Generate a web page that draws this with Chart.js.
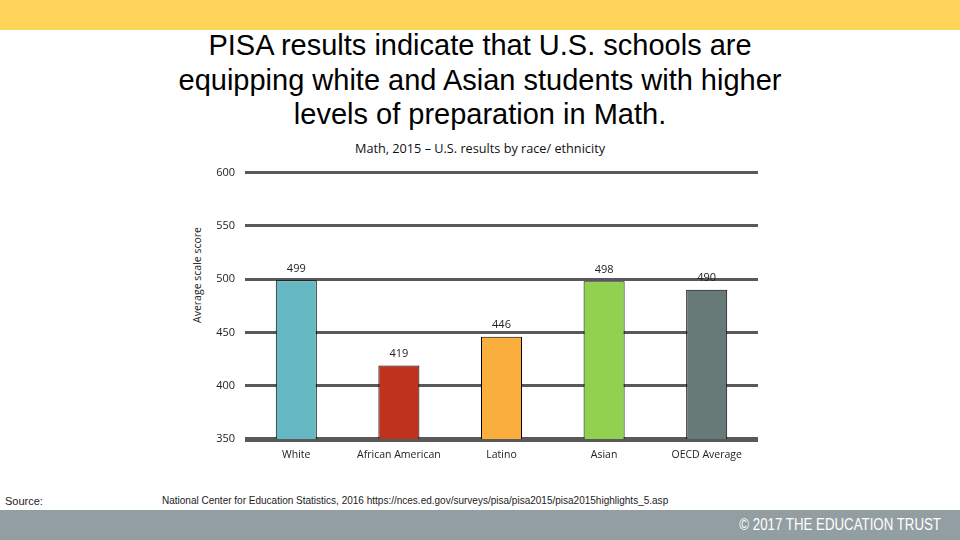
<!DOCTYPE html>
<html>
<head>
<meta charset="utf-8">
<script src="https://cdn.jsdelivr.net/npm/chart.js@4"></script>
<style>
  body { margin: 0; width: 960px; height: 540px; position: relative; overflow: hidden; background: #fff; font-family: "Liberation Sans", Arial, sans-serif; }
  .topbar { position: absolute; left: 0; top: 0; width: 960px; height: 30px; background: #fdd35a; }
  .footer { position: absolute; left: 0; top: 510px; width: 960px; height: 30px; background: #939ea3; }
  .footer span { position: absolute; right: 19px; top: 6px; color: #fff; font-size: 16px; transform: scaleX(0.83); transform-origin: right center; white-space: nowrap; }
  h1 { position: absolute; left: 0; top: 28px; width: 960px; margin: 0; text-align: center; font-weight: normal; font-size: 29px; line-height: 34.5px; color: #000; }
  .sub { position: absolute; left: 0; top: 139px; width: 960px; text-align: center; font-family: "Open Sans", sans-serif; font-size: 12.7px; color: #111; }
  .ytitle { position: absolute; left: 197px; top: 275px; transform: translate(-50%, -50%) rotate(-90deg); white-space: nowrap; font-family: "Open Sans", sans-serif; font-size: 10.5px; color: #222; }
  .src1 { position: absolute; left: 5px; top: 495px; font-size: 11px; color: #222; }
  .src2 { position: absolute; left: 162px; top: 494px; font-size: 10.5px; color: #222; transform: scaleX(0.953); transform-origin: left center; white-space: nowrap; }
  #wrap { position: absolute; left: 160px; top: 156px; width: 620px; height: 310px; }
</style>
</head>
<body>
<div class="topbar"></div>
<h1>PISA results indicate that U.S. schools are<br>equipping white and Asian students with higher<br>levels of preparation in Math.</h1>
<div class="sub">Math, 2015 – U.S. results by race/ ethnicity</div>
<div class="ytitle">Average scale score</div>
<div id="wrap"><canvas id="chart"></canvas></div>
<div class="src1">Source:</div>
<div class="src2">National Center for Education Statistics, 2016 https://nces.ed.gov/surveys/pisa/pisa2015/pisa2015highlights_5.asp</div>
<div class="footer"><span>© 2017 THE EDUCATION TRUST</span></div>
<script>
const groups = ['White', 'African American', 'Latino', 'Asian', 'OECD Average'];
const scores = [499, 419, 446, 498, 490];
const barColors = ['#66b9c3', '#be321e', '#f9ae3e', '#92d050', '#677a78'];
const yTicks = [350, 400, 450, 500, 550, 600];

const font = '"Open Sans", sans-serif';

// 在長條上方畫數值
const valueLabels = {
  id: 'valueLabels',
  afterDatasetsDraw(chart) {
    const ctx = chart.ctx;
    const meta = chart.getDatasetMeta(0);
    ctx.save();
    ctx.font = '11px ' + font;
    ctx.fillStyle = '#222';
    ctx.textAlign = 'center';
    ctx.textBaseline = 'bottom';
    meta.data.forEach((bar, i) => {
      ctx.fillText(scores[i], bar.x, bar.y - 6);
    });
    ctx.restore();
  }
};

new Chart(document.getElementById('chart'), {
  type: 'bar',
  data: {
    labels: groups,
    datasets: [{
      data: scores,
      backgroundColor: barColors,
      borderColor: '#000',
      borderWidth: 1,
      borderSkipped: 'bottom',
      barPercentage: 0.4,
      categoryPercentage: 1
    }]
  },
  options: {
    responsive: true,
    maintainAspectRatio: false,
    animation: false,
    layout: { padding: { left: 0, top: 8, right: 22, bottom: 0 } },
    plugins: { legend: { display: false }, tooltip: { enabled: false } },
    scales: {
      x: {
        grid: { display: false },
        border: { display: false },
        ticks: { color: '#222', font: { family: font, size: 10.5 }, padding: 2 },
        afterFit(scale) { scale.height = 27; }
      },
      y: {
        min: 350,
        max: 600,
        afterBuildTicks(scale) { scale.ticks = yTicks.map(v => ({ value: v })); },
        grid: {
          color: '#595959',
          lineWidth: c => (c.tick && c.tick.value === 350 ? 5 : 3),
          drawTicks: false
        },
        border: { display: false },
        ticks: { color: '#222', font: { family: font, size: 11 }, padding: 10 },
        afterFit(scale) { scale.width = 85; }
      }
    }
  },
  plugins: [valueLabels]
});
</script>
</body>
</html>
